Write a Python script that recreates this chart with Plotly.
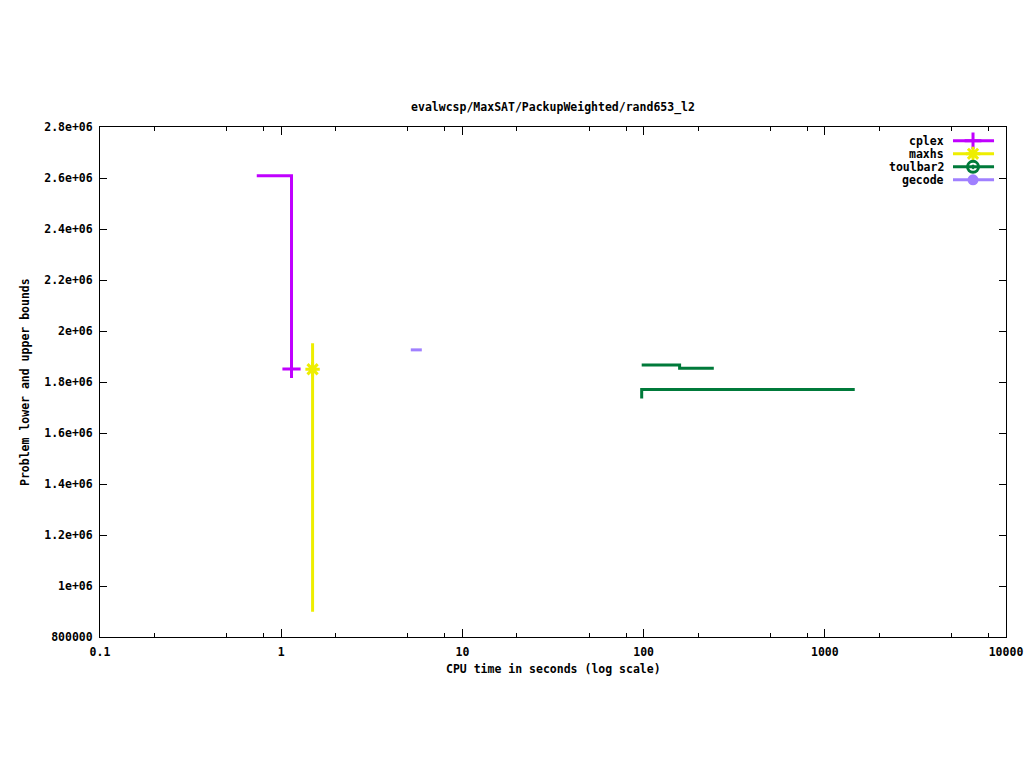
import plotly.graph_objects as go

# ---------------- data ----------------
title_text = "evalwcsp/MaxSAT/PackupWeighted/rand653_l2"
x_label = "CPU time in seconds (log scale)"
y_label = "Problem lower and upper bounds"

solvers = ["cplex", "maxhs", "toulbar2", "gecode"]
colors = {"cplex": "#c000ff", "maxhs": "#eeee00", "toulbar2": "#007a3a", "gecode": "#a080ff"}
symbols = {"cplex": "cross-thin", "maxhs": "asterisk", "toulbar2": "circle-open-dot", "gecode": "circle"}

cplex_x = [0.733, 1.14, 1.14]
cplex_y = [2.609e6, 2.609e6, 1.851e6]
cplex_pt_x = [1.14]
cplex_pt_y = [1.851e6]

maxhs_x = [1.49, 1.49]
maxhs_y = [1.952e6, 0.899e6]
maxhs_pt_x = [1.49]
maxhs_pt_y = [1.850e6]

gecode_x = [5.19, 5.97]
gecode_y = [1.926e6, 1.926e6]

toulbar2_ub_x = [97.6, 158, 158, 244]
toulbar2_ub_y = [1.867e6, 1.867e6, 1.854e6, 1.854e6]
toulbar2_lb_x = [97.6, 97.6, 1463]
toulbar2_lb_y = [1.735e6, 1.771e6, 1.771e6]

x_tickvals = [0.1, 1, 10, 100, 1000, 10000]
x_ticktext = ["0.1", "1", "10", "100", "1000", "10000"]
x_minor = [0.2, 0.5, 0.8, 2, 5, 8, 20, 50, 80, 200, 500, 800, 2000, 5000, 8000]
y_tickvals = [800000, 1.0e6, 1.2e6, 1.4e6, 1.6e6, 1.8e6, 2.0e6, 2.2e6, 2.4e6, 2.6e6, 2.8e6]
y_ticktext = ["800000", "1e+06", "1.2e+06", "1.4e+06", "1.6e+06", "1.8e+06",
              "2e+06", "2.2e+06", "2.4e+06", "2.6e+06", "2.8e+06"]

# ---------------- styling ----------------
FONT = "DejaVu Sans Mono"
FS = 11.5
LW = 3

fig = go.Figure()

def step_line(x, y, name):
    fig.add_trace(go.Scatter(x=x, y=y, mode="lines", line=dict(color=colors[name], width=LW),
                             showlegend=False, hoverinfo="skip"))

step_line(cplex_x, cplex_y, "cplex")
fig.add_trace(go.Scatter(x=cplex_pt_x, y=cplex_pt_y, mode="markers",
                         marker=dict(symbol=symbols["cplex"], size=13, color=colors["cplex"],
                                     line=dict(color=colors["cplex"], width=3)),
                         showlegend=False))
step_line(maxhs_x, maxhs_y, "maxhs")
fig.add_trace(go.Scatter(x=maxhs_pt_x, y=maxhs_pt_y, mode="markers",
                         marker=dict(symbol=symbols["maxhs"], size=12, color=colors["maxhs"],
                                     line=dict(color=colors["maxhs"], width=3)),
                         showlegend=False))
step_line(gecode_x, gecode_y, "gecode")
step_line(toulbar2_ub_x, toulbar2_ub_y, "toulbar2")
step_line(toulbar2_lb_x, toulbar2_lb_y, "toulbar2")

# ---------------- legend (gnuplot style: text, then sample) ----------------
leg_rows = [0.9729, 0.9474, 0.9219, 0.8964]
leg_x0, leg_xm, leg_x1, leg_text_x = 0.9415, 0.9636, 0.9868, 0.9338
for name, ry in zip(solvers, leg_rows):
    fig.add_trace(go.Scatter(x=[leg_x0, leg_x1], y=[ry, ry], xaxis="x2", yaxis="y2", mode="lines",
                             line=dict(color=colors[name], width=LW), showlegend=False, hoverinfo="skip"))
    sz = 12 if name in ("cplex", "maxhs") else 11
    fig.add_trace(go.Scatter(x=[leg_xm], y=[ry], xaxis="x2", yaxis="y2", mode="markers",
                             marker=dict(symbol=symbols[name], size=sz, color=colors[name],
                                         line=dict(color=colors[name], width=3 if name != "gecode" else 0)),
                             showlegend=False, hoverinfo="skip"))
    fig.add_annotation(x=leg_text_x, y=ry, xref="paper", yref="paper", text=name, showarrow=False,
                       xanchor="right", yanchor="middle",
                       font=dict(family=FONT, size=FS, color="black", weight="bold"))

axis_font = dict(family=FONT, size=FS, color="black", weight="bold")

fig.update_layout(
    width=1024, height=768,
    margin=dict(l=100, r=18, t=127, b=131),
    paper_bgcolor="white", plot_bgcolor="white",
    title=dict(text=title_text, x=0.5, xref="paper", xanchor="center",
               y=1 - 107 / 768, yref="container", yanchor="middle",
               font=dict(family=FONT, size=FS, color="black", weight="bold")),
    xaxis=dict(type="log", range=[-1, 4], tickmode="array", tickvals=x_tickvals, ticktext=x_ticktext,
               ticks="inside", ticklen=8, tickwidth=1, tickcolor="black", automargin=False,
               showline=True, linecolor="black", linewidth=1, mirror="ticks",
               showgrid=False, zeroline=False, tickfont=axis_font, ticklabelstandoff=4,
               minor=dict(tickmode="array", tickvals=x_minor, ticks="inside", ticklen=4,
                          tickcolor="black", tickwidth=1, showgrid=False)),
    yaxis=dict(range=[800000, 2.8e6], tickmode="array", tickvals=y_tickvals, ticktext=y_ticktext,
               ticks="inside", ticklen=7, tickwidth=1, tickcolor="black", automargin=False,
               showline=True, linecolor="black", linewidth=1, mirror="ticks",
               showgrid=False, zeroline=False, tickfont=axis_font, ticklabelstandoff=4),
    xaxis2=dict(overlaying="x", range=[0, 1], visible=False, anchor="y2", automargin=False),
    yaxis2=dict(overlaying="y", range=[0, 1], visible=False, anchor="x2", automargin=False),
    showlegend=False,
)

fig.add_annotation(x=0.5, y=-32 / 510, xref="paper", yref="paper", text=x_label, showarrow=False,
                   xanchor="center", yanchor="middle", font=axis_font)
fig.add_annotation(x=-75 / 906, y=0.5, xref="paper", yref="paper", text=y_label, showarrow=False,
                   textangle=-90, xanchor="center", yanchor="middle", font=axis_font)

fig.write_html("out.html", config={"displayModeBar": False},
               post_script="document.body.style.margin='0px';document.body.style.padding='0px';")
